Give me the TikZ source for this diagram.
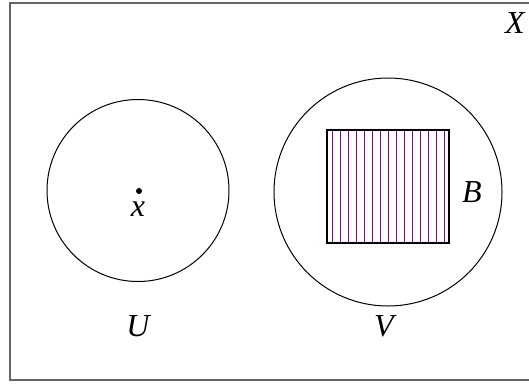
\documentclass[tikz,border=0pt]{standalone}
\usepackage{fontspec}
\setmainfont{Liberation Serif}
\definecolor{hatch}{RGB}{140,0,150}
\definecolor{frame}{RGB}{100,100,100}
\begin{document}
\begin{tikzpicture}[x=1pt,y=-1pt,
  lab/.style={font=\fontsize{32}{32}\selectfont\itshape, inner sep=0pt},
  setcirc/.style={draw=black, line width=1pt}]
\useasboundingbox (0,0) rectangle (529,383);
\clip (0,0) rectangle (529,383);
\draw[frame, line width=1.5pt] (10,3) rectangle (540,380);
\node[lab] (X) at (515,23) {X};
\draw[setcirc] (138,190.5) circle (91);
\draw[setcirc] (388,192) circle (114);
\foreach \i in {0,...,14} {
  \draw[hatch, line width=1pt] ({332+8*\i},130) -- ({332+8*\i},243);
}
\draw[black, line width=2pt] (327,130) rectangle (449,243);
\fill (139,191) circle (3);
\node[lab] (x) at (138,209.5) {x};
\node[lab] (B) at (472,192) {B};
\node[lab] (U) at (138,326) {U};
\node[lab] (V) at (384,326) {V};
\end{tikzpicture}
\end{document}
